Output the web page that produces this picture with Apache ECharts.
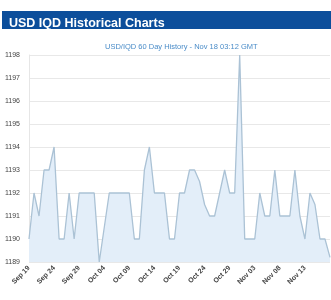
<!DOCTYPE html>
<html><head><meta charset="utf-8">
<script src="https://cdn.jsdelivr.net/npm/echarts@6/dist/echarts.min.js"></script>
<style>html,body{margin:0;padding:0;background:#fff}#c{width:331px;height:300px}</style>
</head><body><div id="c"></div>
<script>
var dates = ["Sep 19","Sep 20","Sep 21","Sep 22","Sep 23","Sep 24","Sep 25","Sep 26","Sep 27","Sep 28",
"Sep 29","Sep 30","Oct 01","Oct 02","Oct 03","Oct 04","Oct 05","Oct 06","Oct 07","Oct 08",
"Oct 09","Oct 10","Oct 11","Oct 12","Oct 13","Oct 14","Oct 15","Oct 16","Oct 17","Oct 18",
"Oct 19","Oct 20","Oct 21","Oct 22","Oct 23","Oct 24","Oct 25","Oct 26","Oct 27","Oct 28",
"Oct 29","Oct 30","Oct 31","Nov 01","Nov 02","Nov 03","Nov 04","Nov 05","Nov 06","Nov 07",
"Nov 08","Nov 09","Nov 10","Nov 11","Nov 12","Nov 13","Nov 14","Nov 15","Nov 16","Nov 17","Nov 18"];
var rates = [1190,1192,1191,1193,1193,1194,1190,1190,1192,1190,
1192,1192,1192,1192,1189,1190.5,1192,1192,1192,1192,
1192,1190,1190,1193,1194,1192,1192,1192,1190,1190,
1192,1192,1193,1193,1192.5,1191.5,1191,1191,1192,1193,
1192,1192,1198,1190,1190,1190,1192,1191,1191,1193,
1191,1191,1191,1193,1191,1190,1192,1191.5,1190,1190,1189.2];
var yTicks = [1189,1190,1191,1192,1193,1194,1195,1196,1197,1198];
var titleText = "USD IQD Historical Charts";
var subText = "USD/IQD 60 Day History - Nov 18 03:12 GMT";

var chart = echarts.init(document.getElementById('c'), null, {renderer:'canvas'});
chart.setOption({
  animation:false,
  graphic:[{type:'rect', shape:{x:2,y:11,width:329,height:18}, style:{fill:'#0c4e9b'}, z:-1}],
  title:[
    {text:titleText, left:4, top:12, textStyle:{color:'#fff', fontSize:12.5, fontWeight:'bold', fontFamily:'Liberation Sans'}},
    {text:subText, left:100, top:38, textStyle:{color:'#4a8cc8', fontSize:7.5, fontWeight:'normal', fontFamily:'Liberation Sans'}}
  ],
  grid:{left:29, right:1, top:55, bottom:38},
  xAxis:{type:'category', data:dates, boundaryGap:false,
    axisLine:{show:false}, axisTick:{show:false},
    axisLabel:{interval:function(i){return i%5===0 && i<dates.length-1;}, rotate:45, fontSize:7, color:'#444', margin:5, fontFamily:'Liberation Sans', fontWeight:'bold'},
    splitLine:{show:false}},
  yAxis:{type:'value', min:yTicks[0], max:yTicks[yTicks.length-1], interval:1,
    axisLine:{show:true, lineStyle:{color:'#e6e6e6'}}, axisTick:{show:false},
    axisLabel:{fontSize:7, color:'#444', margin:9, fontFamily:'Liberation Sans', formatter:function(v){return String(v);}},
    splitLine:{lineStyle:{color:'#e8e8e8'}}},
  series:[{type:'line', data:rates, symbol:'none',
    lineStyle:{color:'#abc2d5', width:1.3},
    areaStyle:{color:'#e3eef9', opacity:1}}]
});
</script></body></html>
